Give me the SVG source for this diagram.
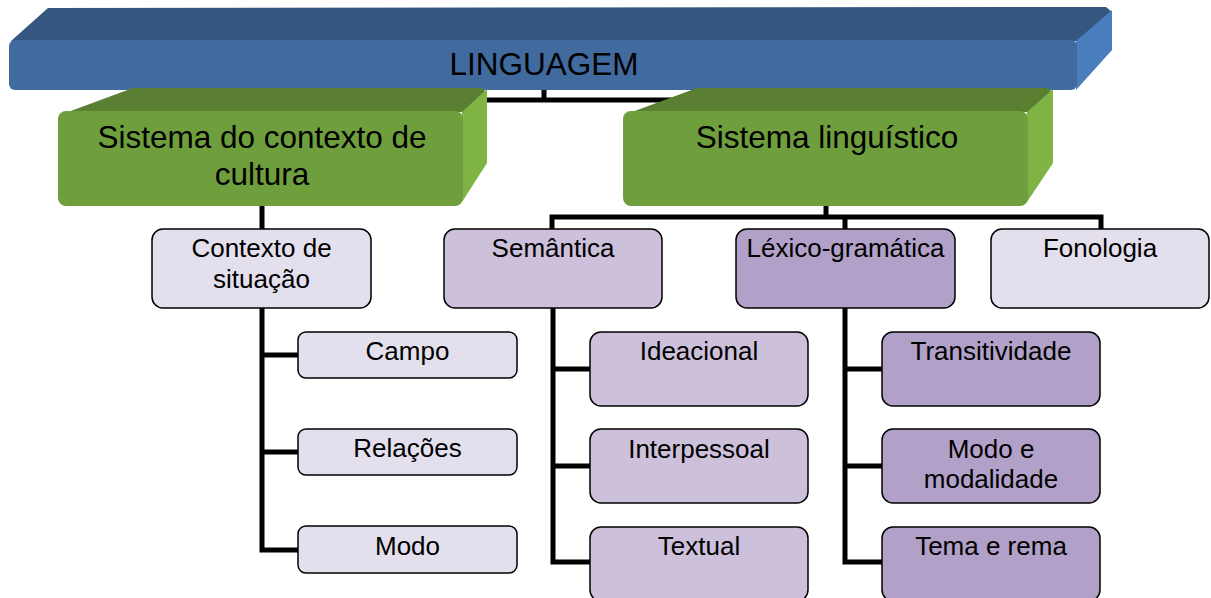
<svg xmlns="http://www.w3.org/2000/svg" width="1211" height="598" viewBox="0 0 1211 598">
<style>
text{font-family:"Liberation Sans",Arial,sans-serif;fill:#000;text-anchor:middle}
.big{font-size:31.5px}
.sm{font-size:26px}
.con{fill:none;stroke:#000;stroke-width:5;stroke-linejoin:miter}
.box{stroke:#000;stroke-width:1.5}
.l1{fill:#e4dfec}
.l2{fill:#ccc0da}
.l3{fill:#b1a0c7}
.bf{fill:#416a9f}.bt{fill:#34567f}.br{fill:#4a7dbc}
.gf{fill:#6f9f3d}.gt{fill:#5a7f32}.gr{fill:#7fb445}
</style>
<rect width="1211" height="598" fill="#fff"/>
<g id="connectors">
<path class="con" d="M544,88 V100 M260,100 H826"/>
<path class="con" d="M262,204 V230"/>
<path class="con" d="M826,204 V217 M552,230 V217 H1101 V230 M845,217 V230"/>
<path class="con" d="M262,306 V550 H299 M262,355 H299 M262,452 H299"/>
<path class="con" d="M553,306 V562 H591 M553,369 H591 M553,466 H591"/>
<path class="con" d="M845,306 V562 H883 M845,369 H883 M845,466 H883"/>
</g>
<g id="linguagem">
<polygon class="bt" points="11,41 48,8 1106,7 1112,12 1077,41"/>
<polygon class="br" points="1076,41 1112,10 1112,50 1076,90"/>
<rect class="bf" x="9" y="40" width="1068" height="50" rx="6"/>
<text class="big" x="544" y="75">LINGUAGEM</text>
</g>
<g id="sistema-cultura">
<polygon class="gt" points="68,112 133,88 482,88 487,93 463,112"/>
<polygon class="gr" points="462,112 487,89 487,163 462,202"/>
<rect class="gf" x="58" y="111" width="405" height="95" rx="8"/>
<text class="big" x="262" y="148">Sistema do contexto de</text>
<text class="big" x="262" y="185">cultura</text>
</g>
<g id="sistema-linguistico">
<polygon class="gt" points="632,112 697,88 1048,88 1053,93 1028,112"/>
<polygon class="gr" points="1027,112 1053,89 1053,163 1027,202"/>
<rect class="gf" x="623" y="111" width="405" height="95" rx="8"/>
<text class="big" x="827" y="148">Sistema linguístico</text>
</g>
<g id="contexto-situacao">
<rect class="box l1" x="152" y="229" width="219" height="79" rx="11"/>
<text class="sm" x="261.5" y="257">Contexto de</text>
<text class="sm" x="261.5" y="288">situação</text>
</g>
<g id="semantica">
<rect class="box l2" x="444" y="229" width="218" height="79" rx="11"/>
<text class="sm" x="553" y="257">Semântica</text>
</g>
<g id="lexico-gramatica">
<rect class="box l3" x="736" y="229" width="219" height="79" rx="11"/>
<text class="sm" x="845.5" y="257">Léxico-gramática</text>
</g>
<g id="fonologia">
<rect class="box l1" x="991" y="229" width="218" height="79" rx="11"/>
<text class="sm" x="1100" y="257">Fonologia</text>
</g>
<g id="campo">
<rect class="box l1" x="298" y="332" width="219" height="46" rx="8"/>
<text class="sm" x="407.5" y="360">Campo</text>
</g>
<g id="relacoes">
<rect class="box l1" x="298" y="429" width="219" height="46" rx="8"/>
<text class="sm" x="407.5" y="457">Relações</text>
</g>
<g id="modo">
<rect class="box l1" x="298" y="526" width="219" height="47" rx="8"/>
<text class="sm" x="407.5" y="555">Modo</text>
</g>
<g id="ideacional">
<rect class="box l2" x="590" y="332" width="218" height="74" rx="11"/>
<text class="sm" x="699" y="360">Ideacional</text>
</g>
<g id="interpessoal">
<rect class="box l2" x="590" y="429" width="218" height="74" rx="11"/>
<text class="sm" x="699" y="458">Interpessoal</text>
</g>
<g id="textual">
<rect class="box l2" x="590" y="527" width="218" height="74" rx="11"/>
<text class="sm" x="699" y="555">Textual</text>
</g>
<g id="transitividade">
<rect class="box l3" x="882" y="332" width="218" height="74" rx="11"/>
<text class="sm" x="991" y="360">Transitividade</text>
</g>
<g id="modo-modalidade">
<rect class="box l3" x="882" y="429" width="218" height="74" rx="11"/>
<text class="sm" x="991" y="458">Modo e</text>
<text class="sm" x="991" y="488">modalidade</text>
</g>
<g id="tema-rema">
<rect class="box l3" x="882" y="527" width="218" height="74" rx="11"/>
<text class="sm" x="991" y="555">Tema e rema</text>
</g>
</svg>
